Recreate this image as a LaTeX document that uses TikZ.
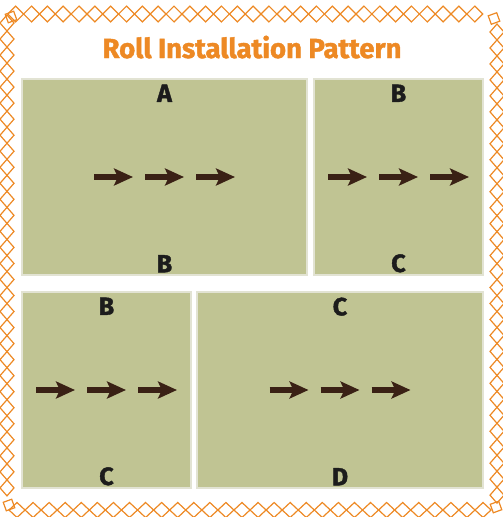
\documentclass[tikz,border=0pt]{standalone}
\usepackage{fontspec}
\setmainfont{Fira Sans}
\newfontfamily\heavysans{Fira Sans}[BoldFeatures={FakeBold=1.5}]
\usetikzlibrary{arrows.meta}
\definecolor{rimorange}{HTML}{ED8924}
\definecolor{turf}{HTML}{C0C493}
\definecolor{turfedge}{HTML}{E2E3D3}
\definecolor{rollbrown}{HTML}{3A2115}
\definecolor{letter}{HTML}{1C1C1C}
\tikzset{
  panel/.style={fill=turf,draw=turfedge,line width=1.2pt,inner sep=0pt},
  edgelabel/.style={font=\heavysans\fontsize{25}{25}\selectfont\bfseries,text=letter,inner sep=0pt},
  rollarrow/.style={draw=rollbrown,line width=6.5pt,
    -{Stealth[length=19pt,width=17pt,inset=4pt]}}
}
\begin{document}
\begin{tikzpicture}[x=1pt,y=-1pt,line join=miter]
\useasboundingbox (0,0) rectangle (503,517);
% diamond border
\begin{scope}[draw=rimorange,line width=1.2pt]
\foreach \k in {0,...,29}
{
  \draw (15.7+15.83*\k,14) ++(-7.9,0) -- ++(7.9,-7.9) -- ++(7.9,7.9) -- ++(-7.9,7.9) -- cycle;
  \draw (17+16.07*\k,510) ++(-8,0) -- ++(8,-7.5) -- ++(8,7.5) -- ++(-8,7.5) -- cycle;
  \draw (7,23+16.03*\k) ++(-7,0) -- ++(7,-8) -- ++(7,8) -- ++(-7,8) -- cycle;
  \draw (497,32+15.97*\k) ++(-7,0) -- ++(7,-8) -- ++(7,8) -- ++(-7,8) -- cycle;
}
\foreach \c in {(11,17),(494,18.5),(496,507),(9,505)}
  \draw[rotate around={20:\c}] \c ++(-4.5,-4.5) rectangle ++(9,9);
\end{scope}
% title
\node[font=\heavysans\fontsize{27.5}{27.5}\selectfont\bfseries,text=rimorange,anchor=base,inner sep=0pt]
  (title) at (252,58) {Roll Installation Pattern};
% panels
\node[panel,minimum width=285pt,minimum height=196pt] (pA) at (164.5,177) {};
\node[panel,minimum width=169pt,minimum height=196pt] (pB) at (398.5,177) {};
\node[panel,minimum width=169pt,minimum height=196pt] (pC) at (106.5,390) {};
\node[panel,minimum width=286pt,minimum height=196pt] (pD) at (340,390) {};
% labels
\foreach \p/\top/\bot in {pA/A/B,pB/B/C,pC/B/C,pD/C/D}
{
  \node[edgelabel,anchor=north] (\p top) at ([yshift=-6pt]\p.north) {\top};
  \node[edgelabel,anchor=south] (\p bot) at ([yshift=3pt]\p.south) {\bot};
}
% rolling direction
\foreach \p in {pA,pB,pC,pD}
  \foreach \dx in {-51,0,51}
    \draw[rollarrow] ([xshift=\dx pt]\p.center) ++(-19.5,0) -- ++(39,0);
\end{tikzpicture}
\end{document}
